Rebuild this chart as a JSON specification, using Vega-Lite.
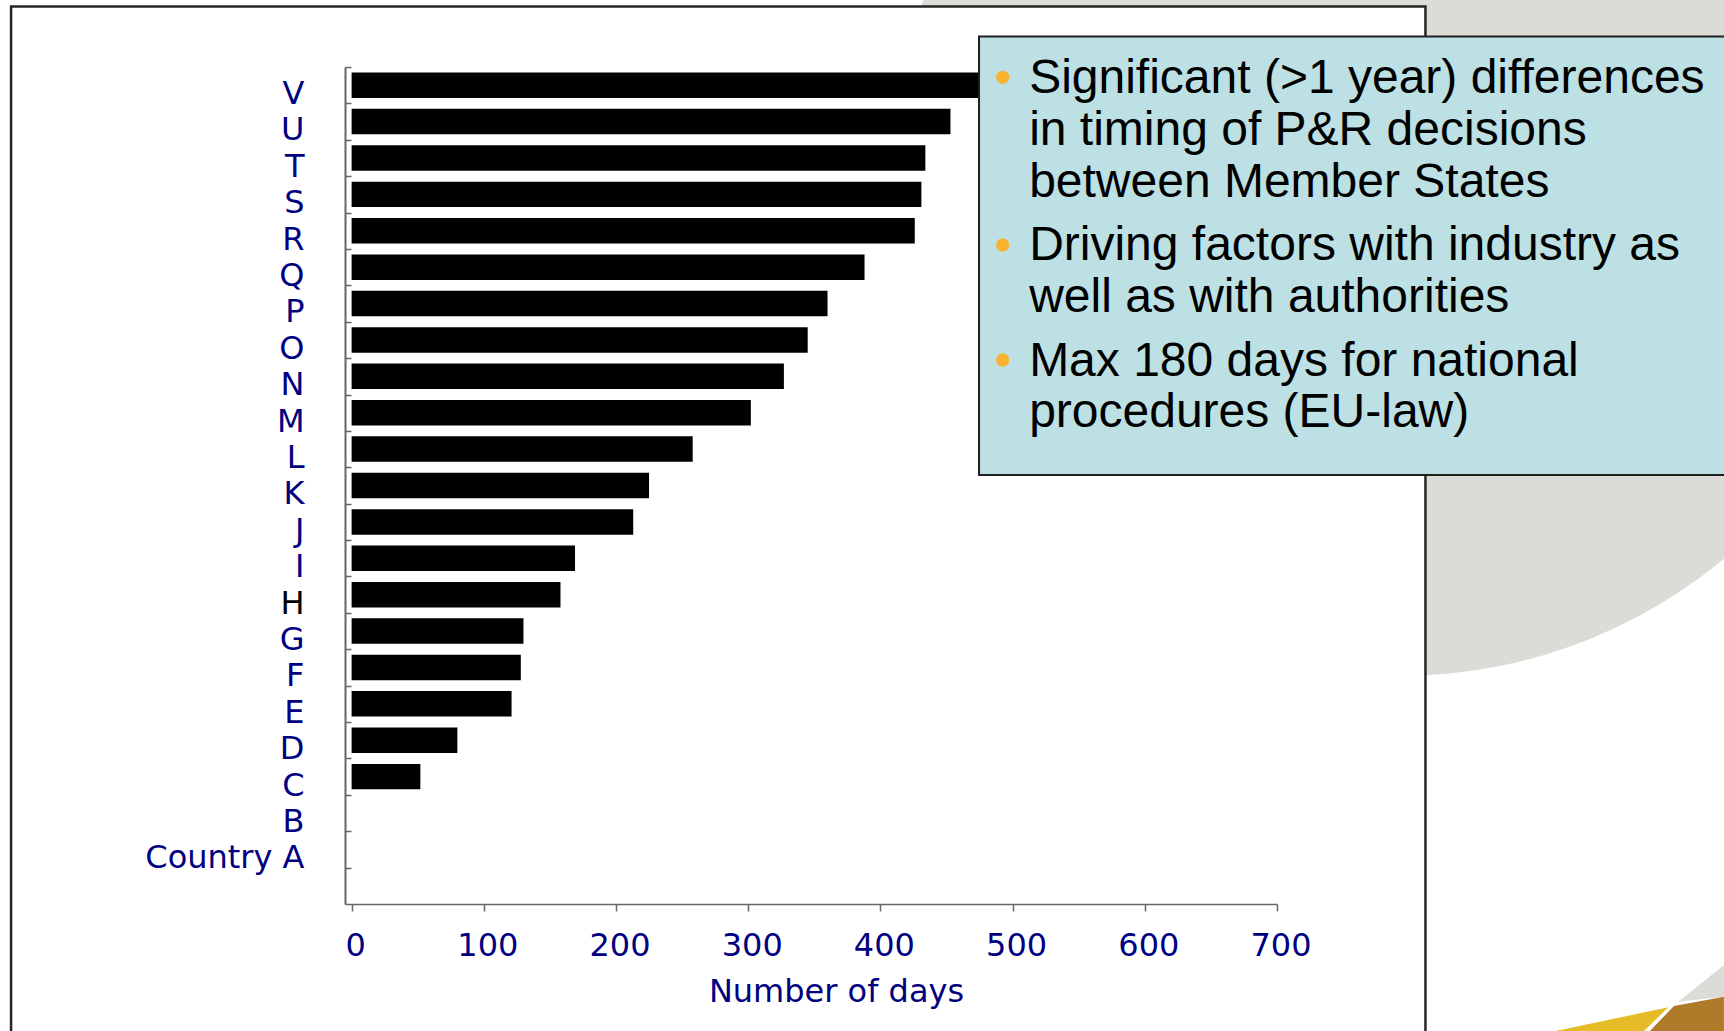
{
  "$schema": "https://vega.github.io/schema/vega-lite/v6.json",
  "width": 932,
  "height": 837,
  "autosize": {"type": "none"},
  "padding": {"left": 345, "top": 67, "right": 447, "bottom": 127},
  "background": "white",
  "config": {"view": {"stroke": null}},
  "datasets": {
    "countries": [
      {"country": "V", "days": 510},
      {"country": "U", "days": 453},
      {"country": "T", "days": 434},
      {"country": "S", "days": 431},
      {"country": "R", "days": 426},
      {"country": "Q", "days": 388},
      {"country": "P", "days": 360},
      {"country": "O", "days": 345},
      {"country": "N", "days": 327},
      {"country": "M", "days": 302},
      {"country": "L", "days": 258},
      {"country": "K", "days": 225},
      {"country": "J", "days": 213},
      {"country": "I", "days": 169},
      {"country": "H", "days": 158},
      {"country": "G", "days": 130},
      {"country": "F", "days": 128},
      {"country": "E", "days": 121},
      {"country": "D", "days": 80},
      {"country": "C", "days": 52},
      {"country": "B", "days": 0},
      {"country": "Country A", "days": 0}
    ],
    "notes": [
      {"point": 1, "text": ["Significant (>1 year) differences", "in timing of P&R decisions", "between Member States"]},
      {"point": 2, "text": ["Driving factors with industry as", "well as with authorities"]},
      {"point": 3, "text": ["Max 180 days for national", "procedures (EU-law)"]}
    ]
  },
  "resolve": {"scale": {"x": "independent", "y": "independent"}},
  "layer": [
    {
      "description": "slide backdrop: large grey disc in the upper right",
      "data": {"values": [{}]},
      "mark": {"type": "circle", "size": 1024144, "color": "#DCDCD6", "opacity": 1},
      "encoding": {
        "x": {"datum": 793, "type": "quantitative", "scale": {"domain": [-5, 700], "nice": false, "zero": false}, "axis": null},
        "y": {"datum": 2.83, "type": "quantitative", "scale": {"domain": [0, 23], "reverse": true, "nice": false, "zero": false}, "axis": null}
      }
    },
    {
      "description": "slide backdrop: coloured wedges in the lower right corner",
      "data": {"values": [{}]},
      "layer": [
        {
          "mark": {"type": "point", "filled": true, "opacity": 1, "strokeWidth": 0, "size": 160000, "color": "#DCDCD6",
                   "shape": "M -0.2285 -0.1465 L 0 -0.33 L 0 -0.1715 Z"}
        },
        {
          "mark": {"type": "point", "filled": true, "opacity": 1, "strokeWidth": 0, "size": 160000, "color": "#B07A2B",
                   "shape": "M -0.25 -0.125 L 0 -0.1715 L 0 0.02 L -0.39 0.02 Z"}
        },
        {
          "mark": {"type": "point", "filled": true, "opacity": 1, "strokeWidth": 0, "size": 160000, "color": "#E5BC27",
                   "shape": "M -0.9365 0.02 L -0.2785 -0.1185 L -0.42 0.02 Z"}
        }
      ],
      "encoding": {
        "x": {"datum": 1038.1, "type": "quantitative", "scale": {"domain": [-5, 700], "nice": false, "zero": false}, "axis": null},
        "y": {"datum": 26.49, "type": "quantitative", "scale": {"domain": [0, 23], "reverse": true, "nice": false, "zero": false}, "axis": null}
      }
    },
    {
      "description": "white slide panel with its border",
      "data": {"values": [{}]},
      "mark": {"type": "rect", "fill": "white", "stroke": "#262626", "strokeWidth": 2.5},
      "encoding": {
        "x": {"datum": -257.6, "type": "quantitative", "scale": {"domain": [-5, 700], "nice": false, "zero": false}, "axis": null},
        "x2": {"datum": 812.3},
        "y": {"datum": -1.662, "type": "quantitative", "scale": {"domain": [0, 23], "reverse": true, "nice": false, "zero": false}, "axis": null},
        "y2": {"datum": 27}
      }
    },
    {
      "data": {"name": "countries"},
      "mark": {"type": "bar", "color": "black"},
      "encoding": {
        "y": {
          "field": "country",
          "type": "nominal",
          "sort": null,
          "scale": {
            "domain": ["V", "U", "T", "S", "R", "Q", "P", "O", "N", "M", "L", "K", "J", "I", "H", "G", "F", "E", "D", "C", "B", "Country A", " "],
            "paddingInner": 0.3,
            "paddingOuter": 0.15
          },
          "axis": {
            "title": null,
            "domainColor": "#666666",
            "domainWidth": 2,
            "tickColor": "#666666",
            "tickWidth": 1.5,
            "tickSize": -6,
            "tickOffset": -18.2,
            "labelOffset": 26.6,
            "labelPadding": 47,
            "labelFont": "DejaVu Sans",
            "labelFontSize": 32,
            "labelColor": {"condition": {"test": "datum.value === 'H'", "value": "#000000"}, "value": "#000080"},
            "labelAlign": "right",
            "labelBaseline": "middle",
            "labelOverlap": false,
            "labelLimit": 400,
            "grid": false,
            "zindex": 1
          }
        },
        "x": {
          "field": "days",
          "type": "quantitative",
          "scale": {"domain": [-5, 700], "nice": false, "zero": false},
          "axis": {
            "title": "Number of days",
            "values": [0, 100, 200, 300, 400, 500, 600, 700],
            "domainColor": "#666666",
            "domainWidth": 1.5,
            "tickColor": "#666666",
            "tickWidth": 1.5,
            "tickSize": 7,
            "labelFont": "DejaVu Sans",
            "labelFontSize": 32,
            "labelColor": "#000080",
            "labelPadding": 19,
            "labelOffset": 3.5,
            "labelFlush": false,
            "labelOverlap": false,
            "titleFont": "DejaVu Sans",
            "titleFontSize": 32,
            "titleFontWeight": "normal",
            "titleColor": "#000080",
            "titleX": 491,
            "titleY": 72,
            "titleAlign": "center",
            "titleBaseline": "top",
            "grid": false,
            "zindex": 1
          }
        },
        "x2": {"datum": 0}
      }
    },
    {
      "description": "callout box",
      "data": {"values": [{}]},
      "mark": {"type": "rect", "fill": "#BCE0E3", "stroke": "#1f1f1f", "strokeWidth": 2},
      "encoding": {
        "x": {"datum": 474.6, "type": "quantitative", "scale": {"domain": [-5, 700], "nice": false, "zero": false}, "axis": null},
        "x2": {"datum": 1050},
        "y": {"datum": -0.838, "type": "quantitative", "scale": {"domain": [0, 23], "reverse": true, "nice": false, "zero": false}, "axis": null},
        "y2": {"datum": 11.21}
      }
    },
    {
      "data": {"name": "notes"},
      "transform": [{"filter": "datum.point == 1"}],
      "layer": [
        {
          "mark": {"type": "circle", "size": 177, "color": "#FAB232", "opacity": 1},
          "encoding": {
            "x": {"datum": 492.5, "type": "quantitative", "scale": {"domain": [-5, 700], "nice": false, "zero": false}, "axis": null},
            "y": {"datum": 0.283, "type": "quantitative", "scale": {"domain": [0, 23], "reverse": true, "nice": false, "zero": false}, "axis": null}
          }
        },
        {
          "mark": {"type": "text", "align": "left", "baseline": "alphabetic", "font": "Liberation Sans", "fontSize": 48, "lineHeight": 51.8, "color": "black"},
          "encoding": {
            "text": {"field": "text", "type": "nominal"},
            "x": {"datum": 512.5, "type": "quantitative", "scale": {"domain": [-5, 700], "nice": false, "zero": false}, "axis": null},
            "y": {"datum": 0.723, "type": "quantitative", "scale": {"domain": [0, 23], "reverse": true, "nice": false, "zero": false}, "axis": null}
          }
        }
      ]
    },
    {
      "data": {"name": "notes"},
      "transform": [{"filter": "datum.point == 2"}],
      "layer": [
        {
          "mark": {"type": "circle", "size": 177, "color": "#FAB232", "opacity": 1},
          "encoding": {
            "x": {"datum": 492.5, "type": "quantitative", "scale": {"domain": [-5, 700], "nice": false, "zero": false}, "axis": null},
            "y": {"datum": 4.891, "type": "quantitative", "scale": {"domain": [0, 23], "reverse": true, "nice": false, "zero": false}, "axis": null}
          }
        },
        {
          "mark": {"type": "text", "align": "left", "baseline": "alphabetic", "font": "Liberation Sans", "fontSize": 48, "lineHeight": 51.8, "color": "black"},
          "encoding": {
            "text": {"field": "text", "type": "nominal"},
            "x": {"datum": 512.5, "type": "quantitative", "scale": {"domain": [-5, 700], "nice": false, "zero": false}, "axis": null},
            "y": {"datum": 5.304, "type": "quantitative", "scale": {"domain": [0, 23], "reverse": true, "nice": false, "zero": false}, "axis": null}
          }
        }
      ]
    },
    {
      "data": {"name": "notes"},
      "transform": [{"filter": "datum.point == 3"}],
      "layer": [
        {
          "mark": {"type": "circle", "size": 177, "color": "#FAB232", "opacity": 1},
          "encoding": {
            "x": {"datum": 492.5, "type": "quantitative", "scale": {"domain": [-5, 700], "nice": false, "zero": false}, "axis": null},
            "y": {"datum": 8.051, "type": "quantitative", "scale": {"domain": [0, 23], "reverse": true, "nice": false, "zero": false}, "axis": null}
          }
        },
        {
          "mark": {"type": "text", "align": "left", "baseline": "alphabetic", "font": "Liberation Sans", "fontSize": 48, "lineHeight": 51.8, "color": "black"},
          "encoding": {
            "text": {"field": "text", "type": "nominal"},
            "x": {"datum": 512.5, "type": "quantitative", "scale": {"domain": [-5, 700], "nice": false, "zero": false}, "axis": null},
            "y": {"datum": 8.48, "type": "quantitative", "scale": {"domain": [0, 23], "reverse": true, "nice": false, "zero": false}, "axis": null}
          }
        }
      ]
    }
  ]
}
